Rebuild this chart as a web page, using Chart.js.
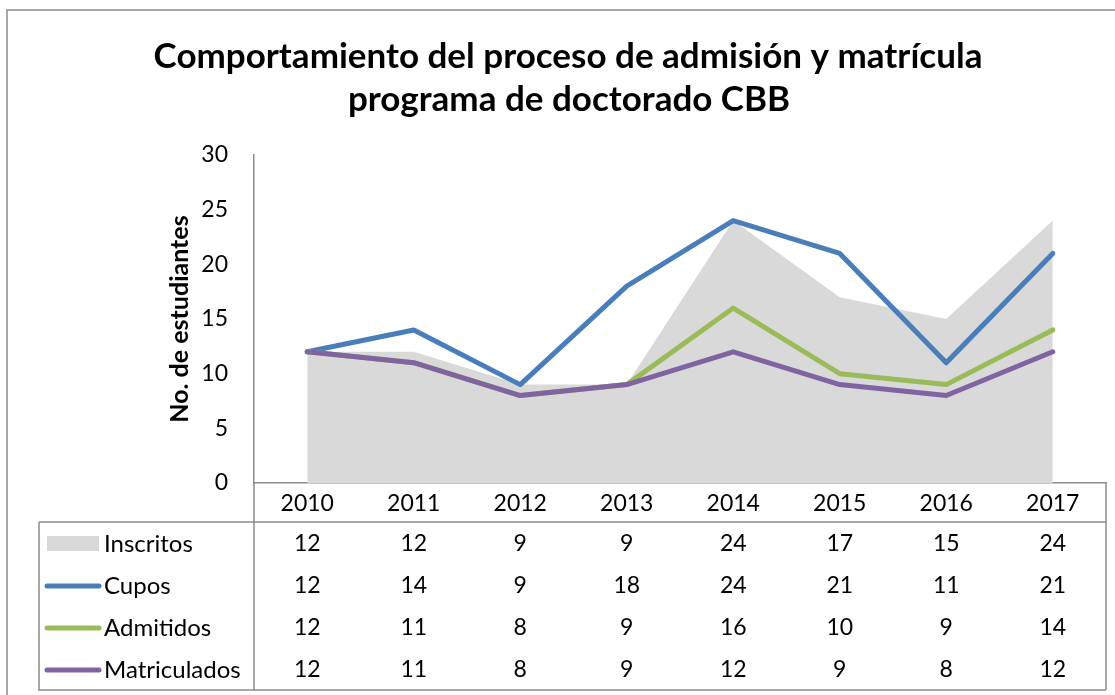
<!DOCTYPE html>
<html>
<head>
<meta charset="utf-8">
<script src="https://cdn.jsdelivr.net/npm/chart.js@4"></script>
<style>
  body { margin: 0; background: #fff; }
  #wrap { width: 1115px; height: 695px; }
</style>
</head>
<body>
<div id="wrap"><canvas id="chart" width="1115" height="695"></canvas></div>
<script>
// chart data
const years = ['2010', '2011', '2012', '2013', '2014', '2015', '2016', '2017'];
const inscritos = [12, 12, 9, 9, 24, 17, 15, 24];
const cupos = [12, 14, 9, 18, 24, 21, 11, 21];
const admitidos = [12, 11, 8, 9, 16, 10, 9, 14];
const matriculados = [12, 11, 8, 9, 12, 9, 8, 12];
const yTicks = [0, 5, 10, 15, 20, 25, 30];

const titleLines = ['Comportamiento del proceso de admisión y matrícula', 'programa de doctorado CBB'];
const yTitle = 'No. de estudiantes';

const FONT = "Lato, 'Open Sans', sans-serif";
const AXIS_GRAY = '#8c8c8c';

const colors = {
    inscritos: '#d9d9d9',
    cupos: '#4a7ebb',
    admitidos: '#9bbb59',
    matriculados: '#8064a2'
};

// draws the frame, title, axis title and the data table under the plot
const decorPlugin = {
    id: 'decor',
    beforeDraw(chart) {
        const ctx = chart.ctx;
        ctx.save();
        ctx.fillStyle = '#fff';
        ctx.fillRect(0, 0, chart.width, chart.height);
        ctx.restore();
    },
    afterDraw(chart) {
        const ctx = chart.ctx;
        const area = chart.chartArea;
        const x = chart.scales.x;
        ctx.save();

        // outer frame
        ctx.strokeStyle = AXIS_GRAY;
        ctx.lineWidth = 1.5;
        ctx.beginPath();
        ctx.moveTo(7, chart.height);
        ctx.lineTo(7, 10);
        ctx.lineTo(chart.width, 10);
        ctx.stroke();

        // title
        ctx.fillStyle = '#000';
        ctx.textAlign = 'center';
        ctx.textBaseline = 'middle';
        ctx.font = 'bold 35px ' + FONT;
        ctx.fillText(titleLines[0], 568, 57);
        ctx.fillText(titleLines[1], 569, 100);

        // y axis title
        ctx.save();
        ctx.translate(180, (area.top + area.bottom) / 2);
        ctx.rotate(-Math.PI / 2);
        ctx.font = 'bold 25px ' + FONT;
        ctx.fillText(yTitle, 0, 0);
        ctx.restore();

        // table lines
        const tableLeft = 39;
        const headTop = area.bottom;
        const headBottom = 522;
        const rowH = 42;
        const tableBottom = headBottom + rowH * 4;
        ctx.strokeStyle = AXIS_GRAY;
        ctx.lineWidth = 1.5;
        ctx.beginPath();
        ctx.moveTo(area.left, headTop);
        ctx.lineTo(area.left, tableBottom);
        ctx.moveTo(area.right, headTop);
        ctx.lineTo(area.right, tableBottom);
        ctx.moveTo(tableLeft, headBottom);
        ctx.lineTo(area.right, headBottom);
        ctx.moveTo(tableLeft, headBottom);
        ctx.lineTo(tableLeft, tableBottom);
        ctx.lineTo(area.right, tableBottom);
        ctx.stroke();

        // header years
        ctx.font = '23px ' + FONT;
        ctx.fillStyle = '#000';
        years.forEach((yr, i) => {
            ctx.fillText(yr, x.getPixelForValue(i), (headTop + headBottom) / 2 + 1);
        });

        // rows
        const rows = [
            { name: 'Inscritos', data: inscritos, color: colors.inscritos, box: true },
            { name: 'Cupos', data: cupos, color: colors.cupos },
            { name: 'Admitidos', data: admitidos, color: colors.admitidos },
            { name: 'Matriculados', data: matriculados, color: colors.matriculados }
        ];
        rows.forEach((row, r) => {
            const cy = headBottom + rowH * r + rowH / 2 + 1;
            if (row.box) {
                ctx.fillStyle = row.color;
                ctx.fillRect(47, cy - 8, 52, 15);
            } else {
                ctx.strokeStyle = row.color;
                ctx.lineWidth = 5;
                ctx.lineCap = 'round';
                ctx.beginPath();
                ctx.moveTo(47, cy);
                ctx.lineTo(99, cy);
                ctx.stroke();
            }
            ctx.fillStyle = '#000';
            ctx.textAlign = 'left';
            ctx.font = '24px ' + FONT;
            ctx.fillText(row.name, 104, cy);
            ctx.textAlign = 'center';
            ctx.font = '23px ' + FONT;
            row.data.forEach((v, i) => {
                ctx.fillText(String(v), x.getPixelForValue(i), cy);
            });
        });

        ctx.restore();
    }
};

const lineStyle = (color) => ({
    borderColor: color,
    backgroundColor: color,
    borderWidth: 5,
    borderCapStyle: 'round',
    borderJoinStyle: 'round',
    pointRadius: 0,
    fill: false,
    tension: 0
});

new Chart(document.getElementById('chart'), {
    type: 'line',
    data: {
        labels: years,
        datasets: [
            {
                label: 'Inscritos',
                data: inscritos,
                borderWidth: 0,
                backgroundColor: colors.inscritos,
                pointRadius: 0,
                fill: 'origin',
                tension: 0,
                order: 4
            },
            Object.assign({ label: 'Cupos', data: cupos, order: 3 }, lineStyle(colors.cupos)),
            Object.assign({ label: 'Admitidos', data: admitidos, order: 2 }, lineStyle(colors.admitidos)),
            Object.assign({ label: 'Matriculados', data: matriculados, order: 1 }, lineStyle(colors.matriculados))
        ]
    },
    options: {
        responsive: false,
        animation: false,
        devicePixelRatio: 1,
        layout: { padding: { top: 155, left: 0, right: 9, bottom: 0 } },
        plugins: {
            legend: { display: false },
            title: { display: false },
            tooltip: { enabled: false }
        },
        scales: {
            x: {
                offset: true,
                grid: { display: false, drawTicks: false },
                border: { display: true, color: AXIS_GRAY, width: 1.5 },
                ticks: { display: false },
                afterFit(scale) { scale.height = 212; }
            },
            y: {
                min: 0,
                max: 30,
                afterBuildTicks(scale) { scale.ticks = yTicks.map(v => ({ value: v })); },
                grid: { display: false, drawTicks: false },
                border: { display: true, color: AXIS_GRAY, width: 1.5 },
                ticks: {
                    color: '#000',
                    padding: 26,
                    font: { family: FONT, size: 23 }
                },
                afterFit(scale) { scale.width = 254; }
            }
        }
    },
    plugins: [decorPlugin]
});
</script>
</body>
</html>
